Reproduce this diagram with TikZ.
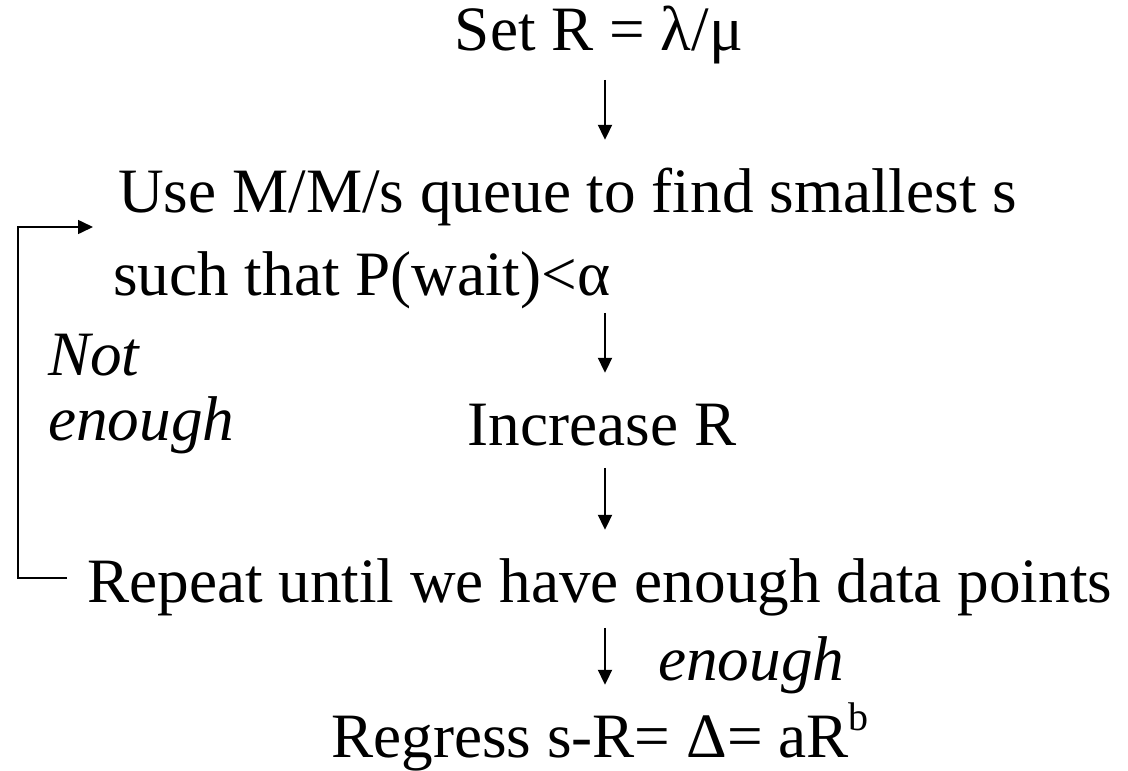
\documentclass[tikz,border=0pt]{standalone}
\usepackage{fontspec}
\setmainfont{Liberation Serif}
\usetikzlibrary{arrows.meta,positioning}
\begin{document}
\begin{tikzpicture}[x=1pt, y=-1pt,
    every node/.style={inner sep=0pt, font=\fontsize{63.2}{75}\selectfont, text height=45pt, text depth=15.6pt},
    down/.style={-{Triangle[length=15pt,width=14pt]}, line width=2pt, shorten >=27pt},
    back/.style={-{Triangle[length=15pt,width=14pt]}, line width=1.6pt}]
    \useasboundingbox (0,0) rectangle (1128,771);

    \begin{scope}[every node/.append style={anchor=base}]
        \node (set) at (599,50) {Set R = λ/μ};
        \node (increase) at (602,445) {Increase R};
        \node (regress) at (600,757) {Regress s-R= Δ= aR\raisebox{0.42em}{\fontsize{40}{40}\selectfont b}};
    \end{scope}

    \begin{scope}[every node/.append style={anchor=base west}]
        \node (use) at (118,212) {Use M/M/s queue to find smallest s};
        \node (such) at (113,295) {such that P(wait)<α};
        \node (repeat) at (87,602) {Repeat until we have enough data points};
        \node (not) at (48,375) {\itshape Not};
        \node (notenough) at (48,440) {\itshape enough};
        \node (enough) at (658,680) {\itshape enough};
    \end{scope}

    \coordinate (col) at (605,0);
    \coordinate (loop) at (18,0);

    \draw[down, shorten <=14pt] (set.south -| col) -- (use.north -| col);
    \draw[down, shorten <=2pt] (such.south -| col) -- (increase.north -| col);
    \draw[down, shorten <=7pt] (increase.south -| col) -- (repeat.north -| col);
    \draw[down, shorten <=10pt] (repeat.south -| col) -- (regress.north -| col);

    \coordinate (out) at ([shift={(-20pt,24pt)}]repeat.base west);
    \draw[back] (out) -- (out -| loop) |- ([shift={(-25pt,-15pt)}]use.base west);
\end{tikzpicture}
\end{document}
